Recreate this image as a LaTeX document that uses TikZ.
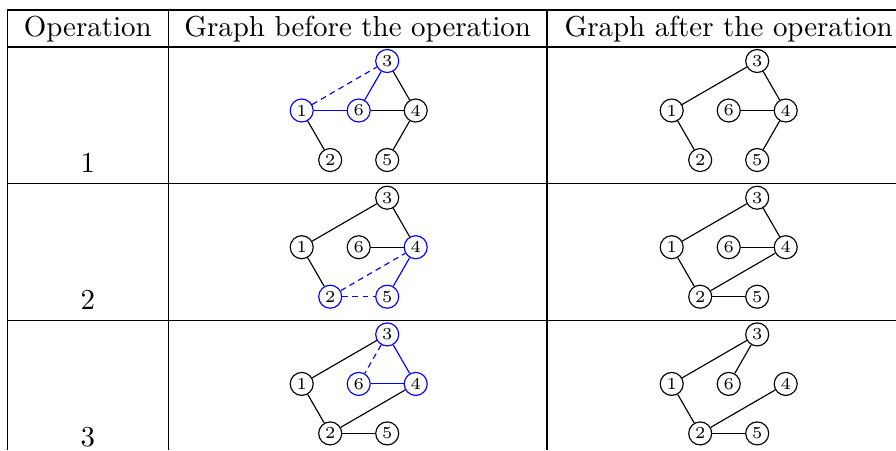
\documentclass[tikz,border=0pt]{standalone}

\begin{document}
\begin{tikzpicture}[
  x=0.346pt,y=-0.346pt,
  rule/.style={draw=black,line width=0.4pt},
  head/.style={anchor=base,inner sep=0pt},
  vertex/.style={draw=black,circle,line width=0.4pt,minimum size=7.96pt,inner sep=0pt,font=\fontsize{5.8}{7}\selectfont},
  hot/.style={draw=blue},
  edge/.style={draw=black,line width=0.4pt},
  hotedge/.style={edge,draw=blue},
  hotdash/.style={edge,draw=blue,dash pattern=on 2pt off 1.5pt},
  % vertices shown in blue before each operation
  b11/.style={hot},b13/.style={hot},b16/.style={hot},
  b22/.style={hot},b24/.style={hot},b25/.style={hot},
  b33/.style={hot},b34/.style={hot},b36/.style={hot},
]
\useasboundingbox (0,0) rectangle (896,450);

% table rules
\foreach \y in {10,47,183.7,320.4}
  \draw[rule] (7.3,\y) -- (896,\y);
\foreach \x in {7.3,168.3,547}
  \draw[rule] (\x,10) -- (\x,450);

% header and operation numbers
\node[head] (opHead) at (87.8,36) {Operation};
\node[head] (beforeHead) at (357.7,36) {Graph before the operation};
\node[head] (afterHead) at (728.7,36) {Graph after the operation};
\node[head] (op1) at (87.8,172.7) {1};
\node[head] (op2) at (87.8,309.4) {2};
\node[head] (op3) at (87.8,446.1) {3};

% vertices of the six graphs
\foreach \g/\ox/\oy in {b1/301.7/110.5,a1/671.7/110.5,b2/301.7/247.2,a2/671.7/247.2,b3/301.7/383.9,a3/671.7/383.9}
  \foreach \n/\dx/\dy in {1/0/0,2/28.5/49.5,3/85.5/-49.5,4/114/0,5/85.5/49.5,6/57/0}
    \node[vertex,\g\n/.try] (\g\n) at (\ox+\dx,\oy+\dy) {\n};

% operation 1
\foreach \u/\v/\s in {1/2/edge,3/4/edge,4/5/edge,6/4/edge,1/6/hotedge,6/3/hotedge,1/3/hotdash}
  \draw[\s] (b1\u) -- (b1\v);
\foreach \u/\v in {1/3,3/4,6/4,1/2,4/5}
  \draw[edge] (a1\u) -- (a1\v);

% operation 2
\foreach \u/\v/\s in {1/3/edge,3/4/edge,6/4/edge,1/2/edge,4/5/hotedge,2/4/hotdash,2/5/hotdash}
  \draw[\s] (b2\u) -- (b2\v);
\foreach \u/\v in {1/3,3/4,6/4,1/2,2/4,2/5}
  \draw[edge] (a2\u) -- (a2\v);

% operation 3
\foreach \u/\v/\s in {1/3/edge,1/2/edge,2/4/edge,2/5/edge,3/4/hotedge,6/4/hotedge,3/6/hotdash}
  \draw[\s] (b3\u) -- (b3\v);
\foreach \u/\v in {1/3,3/6,1/2,2/4,2/5}
  \draw[edge] (a3\u) -- (a3\v);
\end{tikzpicture}
\end{document}
